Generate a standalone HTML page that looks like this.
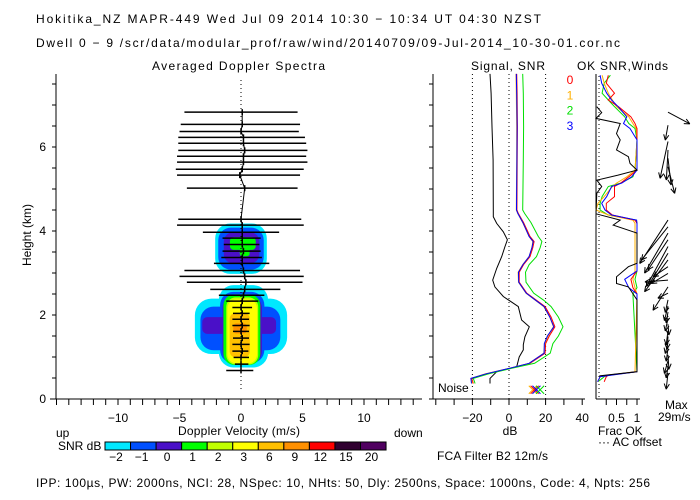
<!DOCTYPE html>
<html><head><meta charset="utf-8"><style>
html,body{margin:0;padding:0;background:#fff;}
svg{display:block;font-family:"Liberation Sans",sans-serif;}
text{fill:#000;font-size:12px;}
</style></head><body>
<svg id="chart" width="700" height="500" viewBox="0 0 700 500" xmlns="http://www.w3.org/2000/svg">
<text x="36" y="23" font-size="13" textLength="505">Hokitika_NZ  MAPR-449  Wed Jul 09 2014 10:30 − 10:34 UT 04:30 NZST</text>
<text x="36" y="47" textLength="584">Dwell  0 −  9   /scr/data/modular_prof/raw/wind/20140709/09-Jul-2014_10-30-01.cor.nc</text>
<text x="152" y="70" textLength="173">Averaged Doppler Spectra</text>
<text x="471" y="70" textLength="74">Signal, SNR</text>
<text x="577" y="70" textLength="91">OK SNR,Winds</text>
<text transform="translate(31,235) rotate(-90)" text-anchor="middle">Height (km)</text>
<text x="178" y="435" textLength="122">Doppler Velocity (m/s)</text>
<text x="56" y="437">up</text>
<text x="394" y="437">down</text>
<text x="58" y="450">SNR dB</text>
<text x="510" y="435" text-anchor="middle">dB</text>
<text x="437" y="460" textLength="111">FCA Filter B2 12m/s</text>
<text x="598" y="435">Frac OK</text>
<text x="598" y="446">··· AC offset</text>
<text x="665" y="409">Max</text>
<text x="658" y="421">29m/s</text>
<text x="438" y="392">Noise</text>
<text x="36" y="487" textLength="614">IPP: 100µs,  PW: 2000ns,  NCI:  28,  NSpec: 10, NHts: 50,  Dly: 2500ns,  Space: 1000ns,  Code: 4,  Npts: 256</text>
<g id="blobs"></g><g id="axes"></g><g id="marks"></g>
</svg>
<script>
// ---- data ----
const yTicksKm=[0,2,4,6];
const velTicks=[-10,-5,0,5,10];
const dbTicks=[-20,0,20,40];
const fracTicks=["0.5","1"];
const cbLabels=["−2","−1","0","1","2","3","6","9","12","15","20"];
const cbColors=["#00e8ff","#0050ff","#4a10c8","#00ff00","#c0ff00","#ffff00","#ffc000","#ff9000","#ff0000","#300030","#500060"];
// spectral width bars
const specH=[6.83,6.54,6.37,6.23,6.09,5.92,5.78,5.64,5.47,5.33,5.02,4.28,4.14,3.97,3.83,3.68,3.52,3.37,3.23,3.06,2.92,2.78,2.61,2.47,2.33,2.18,2.04,1.90,1.75,1.61,1.45,1.30,1.14,0.99,0.83,0.68];
const specLo=[-4.6,-4.9,-5.0,-5.1,-5.1,-5.1,-5.2,-5.2,-5.3,-5.2,-4.4,-5.1,-5.2,-3.1,-1.5,-1.4,-1.5,-1.6,-2.2,-4.6,-5.0,-4.4,-2.5,-1.8,-1.2,-0.7,-0.65,-0.7,-0.7,-0.65,-0.65,-0.7,-0.7,-0.6,-0.5,-1.2];
const specHi=[4.6,4.8,4.7,5.2,5.3,5.4,5.3,5.4,5.1,4.8,4.6,4.9,5.1,3.1,1.6,1.5,1.6,1.7,2.3,4.8,5.1,5.0,3.2,1.9,1.4,0.9,0.7,0.65,0.7,0.65,0.65,0.7,0.6,0.65,0.6,1.0];
const specC=[0.1,0.1,0.0,0.2,0.2,0.3,0.2,0.2,0.1,-0.1,0.3,0.0,0.1,0.1,0.1,0.1,0.2,0.1,0.1,0.2,0.3,0.4,0.3,0.2,0.1,0.0,0.1,0.0,0.1,0.0,0.1,0.0,0.1,0.0,0.0,0.0];
// SNR contour layers (data units)
const blobV=[0,0.2,-0.05,0.1,-0.15,0.1,0.07,0.1,0.1,-0.1,-0.08, 0,0,0.05,0.15,0.3];
const blobH=[1.73,1.73,1.68,1.7,1.75,1.65,1.65,1.62,1.61,1.52,1.68, 3.58,3.58,3.6,3.7,3.5];
const blobRV=[3.75,2.0,3.25,1.8,3.0,1.6,1.5,1.3,1.2,0.82,0.55, 2.1,1.85,1.45,1.05,0.4];
const blobRH=[0.66,0.98,0.52,0.85,0.2,0.8,0.84,0.8,0.76,0.53,0.12, 0.6,0.5,0.37,0.15,0.1];
const blobLevel=[0,0,1,1,2,2,3,4,5,6,7, 0,1,2,3,3];
// signal & SNR
const sigH=[7.74,7.28,6.48,5.69,4.5,4.34,4.18,3.98,3.79,3.63,3.39,3.11,2.83,2.67,2.44,2.2,1.88,1.72,1.48,1.29,1.17,1.0,0.77,0.65,0.49,0.37];
const sigV=[-10.4,-9.8,-9.3,-8.7,-8.6,-8.6,-6.7,-3.1,-0.9,-2.2,-4.0,-6.7,-8.9,-7.7,-3.1,5.1,6.9,11.1,8.7,7.8,7.8,5.6,4.2,-6.7,-10.4,-10.4];
const snrH=[7.74,7.28,6.48,5.69,4.5,4.42,4.2,3.87,3.75,3.6,3.39,3.2,3.02,2.78,2.52,2.35,2.2,1.95,1.72,1.5,1.32,1.09,0.85,0.73,0.6,0.49,0.37];
const snr0=[4.2,4.4,4.6,4.5,4.3,5.1,8,11.5,13.7,13,11.5,8,5.6,5.6,9.7,15,19.7,23,25.1,22,20,19.7,11.5,0.5,-12,-20.4,-19.5];
const snr1=[3.8,4,4.2,4.2,4,4.8,7.5,11,13,12.5,11,7.5,5,5.2,9.3,14.5,19,22.3,24.3,21.3,19.5,19,11,0,-13,-20.8,-20];
const snr2=[7.5,7.8,8,7.8,7.5,8.5,12,16,18,17,15,11,9,9.3,13.5,19,23,27,29.5,27,24,22.5,14,1.5,-11,-19.5,-18.5];
const snr3=[4,4.2,4.4,4.3,4.1,4.8,7.6,11,13.2,12.5,11,7.6,5.2,5.3,9.4,14.6,19.2,22.3,24.5,21,19.3,19.2,11,0.2,-12.5,-20.8,-20.5];
const noiseDb=[13,14,15,17];
// fraction OK
const frH=[7.71,7.52,7.28,7.12,6.96,6.72,6.56,6.44,6.17,5.45,5.29,5.14,5.06,4.82,4.66,4.5,4.38,4.26,4.18,3.05,2.85,2.65,2.5,0.65,0.57,0.53,0.41];
const frBlue=[0.10,0.14,0.26,0.38,0.54,0.75,0.67,0.83,1,1,0.87,0.63,0.38,0.26,0.14,0.22,0.38,0.99,1,1,0.7,0.8,1,1,0.38,0.10,0.04];
const frRed=[0.3,0.25,0.45,0.3,0.55,0.85,0.95,1,1,1,0.8,0.6,0.45,0.45,0.25,0.25,0.4,0.95,1,1,0.85,0.9,1,1,0.3,0.25,0.2];
const frOrange=[0.15,0.2,0.3,0.4,0.5,0.8,0.9,0.98,1,0.95,0.75,0.5,0.4,0.2,0.05,0,0.3,0.9,0.95,0.95,0.9,0.95,1,0.95,0.35,0.1,0.05];
const frGreen=[0.35,0.2,0.15,0.3,0.45,0.7,0.8,0.95,1,0.95,0.9,0.6,0.3,0.15,0.1,0.1,0.3,0.98,1,1,0.95,1,0.9,1,0.3,0.2,0.05];
const bkH=[6.96,6.82,6.68,6.56,6.32,6.17,5.93,5.77,5.61,5.45,5.33,5.21,5.06,4.9,4.41,4.26,4.14,3.95,3.23,3.15,2.91,2.75,2.67,2.36,0.65,0.55];
const bkF=[0.02,0.14,0,0.59,0.5,0.59,0.5,0.79,0.83,1,0.54,0.02,0.14,0.02,0,0.59,0.42,1,1,0.79,0.5,0.5,0.79,1,1,0.08];
// winds
const windH=[6.83,6.52,6.13,5.93,5.73,5.53,4.26,4.10,3.95,3.79,3.63,3.47,3.31,3.15,2.99,2.83,2.67,2.52,2.36,2.21,2.07,1.92,1.78,1.63,1.49,1.34,1.20,1.05,0.91,0.76,0.62];
const windU=[12.1,-1.5,-4.4,-0.9,1.7,3.7,-15.7,-14.8,-13,-11.1,-12,-10.2,-13,-8.3,-9.3,-12.8,-8.3,-5.6,-1.5,-2,-1,-1.5,0.5,-1,-0.5,-1.5,-1,0.5,-2,-1,-1];
const windV=[-6.5,-8.3,-20.4,-16.7,-14.8,-14.8,-24.1,-18.5,-22.2,-16.7,-22.2,-16.7,-17.6,-5.6,-5.6,-1,-13,-2.8,-7,-8,-6,-7,-6,-8,-7,-6,-7,-8,-7,-6,-9];

// ---- scales ----
const hy=h=>399-42*h;
const vx=v=>241+12.3*v;
const dx=d=>509+1.83*d;
const fx=f=>596+41*f;
const NS="http://www.w3.org/2000/svg";
function mk(tag,attrs,parent){const e=document.createElementNS(NS,tag);for(const k in attrs)e.setAttribute(k,attrs[k]);parent.appendChild(e);return e;}
const gA=document.getElementById('axes'),gM=document.getElementById('marks'),gB=document.getElementById('blobs');
const ln=(x1,y1,x2,y2,p,extra)=>mk('line',Object.assign({x1,y1,x2,y2,stroke:'#000','stroke-width':1},extra||{}),p);
const pts=(xs,ys)=>xs.map((x,i)=>x.toFixed(1)+','+ys[i].toFixed(1)).join(' ');

// blobs (rounded blocks)
blobV.forEach((v,i)=>{
  const w=blobRV[i]*12.3,hh=blobRH[i]*42,r=Math.min(w,hh)*0.6;
  const e=mk('rect',{x:vx(v)-w,y:hy(blobH[i])-hh,width:2*w,height:2*hh,rx:r,ry:r,fill:cbColors[blobLevel[i]]},gB);
  
  
});

// axes: left panel
let e=ln(56,74,56,399,gA);  
e=ln(50,399,422,399,gA);  
for(let k=0;k<=15;k++){const y=hy(k*0.5);ln(52,y,56,y,gA);ln(429,y,433,y,gA);}
for(let v=-15;v<=14;v++){ln(vx(v),399,vx(v),405,gA);}
yTicksKm.forEach(k=>{const t=mk('text',{x:46,y:hy(k)+4,'text-anchor':'end'},gA);t.textContent=k;
  });
velTicks.forEach(v=>{const t=mk('text',{x:vx(v),y:422,'text-anchor':'middle'},gA);t.textContent=v<0?'−'+(-v):v;
  });
ln(vx(0),80,vx(0),392,gA,{'stroke-dasharray':'1,3'});
// middle panel
ln(433,74,433,399,gA); ln(430,399,585,399,gA);
for(let d=-40;d<=40;d+=10)ln(dx(d),399,dx(d),405,gA);
[-20,0,20].forEach(d=>ln(dx(d),74,dx(d),399,gA,{'stroke-dasharray':'1,3'}));
dbTicks.forEach(d=>{const t=mk('text',{x:dx(d),y:422,'text-anchor':'middle'},gA);t.textContent=d<0?'−'+(-d):d;
  });
// right panel
ln(596,74,596,399,gA); ln(596,399,640,399,gA);
for(let f=0.25;f<=1.01;f+=0.25)ln(fx(f),399,fx(f),405,gA);
ln(599,76,599,399,gA,{'stroke-dasharray':'1,3'});
fracTicks.forEach(s=>{const t=mk('text',{x:fx(+s),y:422,'text-anchor':'middle'},gA);t.textContent=s;
  });

// color bar
cbColors.forEach((c,i)=>{
  const r=mk('rect',{x:105+i*25.55,y:442,width:25.55,height:8,fill:c,stroke:'#000','stroke-width':1},gA);
  
  const t=mk('text',{x:105+i*25.55+11,y:461,'text-anchor':'middle'},gA);t.textContent=cbLabels[i];
  
});

// spectral width bars
specH.forEach((h,i)=>{
  const b=ln(vx(specLo[i]),hy(h),vx(specHi[i]),hy(h),gM,{'stroke-width':1.5});
  
  
  ln(vx(specC[i]),hy(h)-3,vx(specC[i]),hy(h)+3,gM,{'stroke-width':1.5});
});
e=mk('polyline',{points:pts(specC.map(vx),specH.map(hy)),fill:'none',stroke:'#000','stroke-width':1},gM);


// signal / snr
e=mk('polyline',{points:pts(sigV.map(dx),sigH.map(hy)),fill:'none',stroke:'#000'},gM);

const chCols=['#ff0000','#ffb000','#00e000','#0000ff'];
[snr0,snr1,snr2,snr3].forEach((arr,i)=>{
  const p=mk('polyline',{points:pts(arr.map(dx),snrH.map(hy)),fill:'none',stroke:chCols[i],'stroke-width':1},gM);
  
  
  const t=mk('text',{x:570,y:84+i*15.3,'text-anchor':'middle'},gM);t.style.fill=chCols[i];t.textContent=i;
  
});
noiseDb.forEach((d,i)=>{
  const x=dx(d),y=hy(0.22),c=chCols[[1,0,3,2][i]];
  ln(x-4,y-4,x+4,y+4,gM,{stroke:c});ln(x-4,y+4,x+4,y-4,gM,{stroke:c});
});

// frac ok
[[frGreen,'#00e000'],[frOrange,'#ffb000'],[frRed,'#ff0000'],[frBlue,'#0000ff']].forEach(([arr,c])=>{
  const p=mk('polyline',{points:pts(arr.map(fx),frH.map(hy)),fill:'none',stroke:c},gM);
  
  
});
e=mk('polyline',{points:pts(bkF.map(fx),bkH.map(hy)),fill:'none',stroke:'#000'},gM);


// winds
windH.forEach((h,i)=>{
  const x0=668,y0=hy(h),x1=x0+windU[i]*1.8,y1=y0-windV[i]*1.8;
  const a=ln(x0,y0,x1,y1,gM);
  
  
  const ang=Math.atan2(y1-y0,x1-x0);
  [0.45,-0.45].forEach(o=>ln(x1,y1,x1-6*Math.cos(ang+o),y1-6*Math.sin(ang+o),gM));
});
</script>
</body></html>
